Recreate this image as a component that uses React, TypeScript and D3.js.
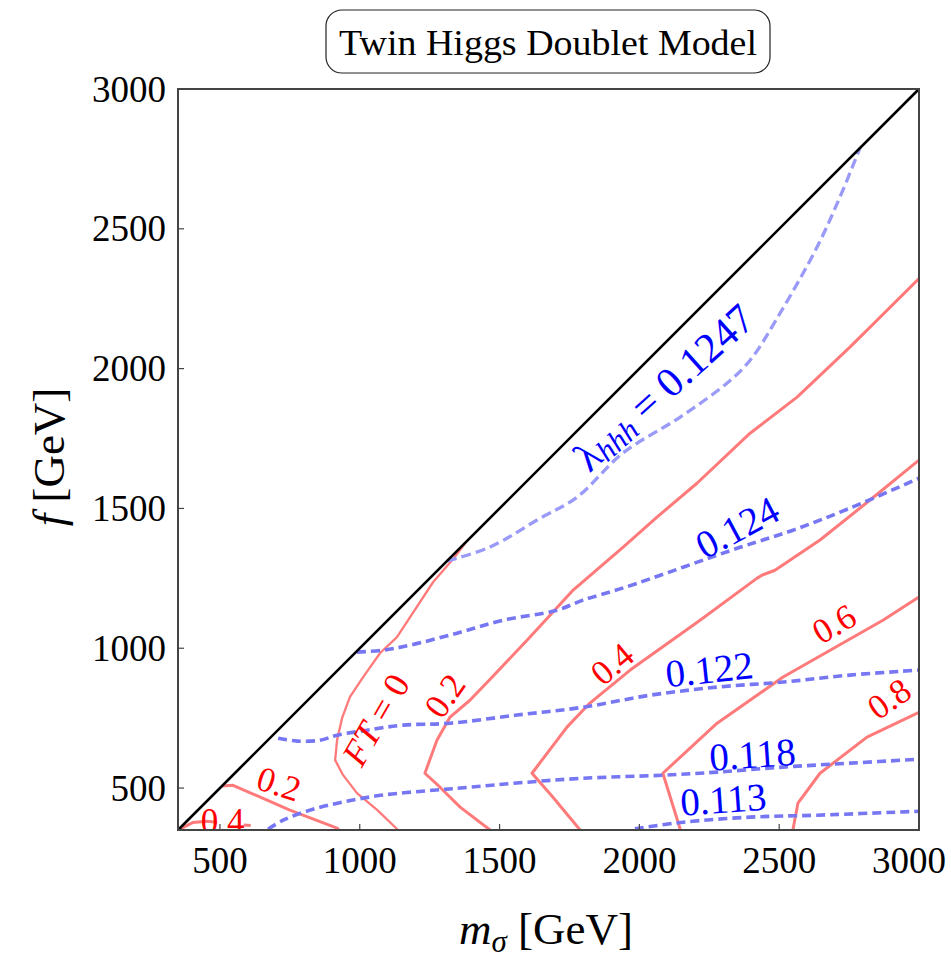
import React from "react";
import * as d3 from "d3";

// ---------- data (GeV) ----------
const DOMAIN: [number, number] = [350, 3000];
const X_TICKS = [500, 1000, 1500, 2000, 2500, 3000];
const Y_TICKS = [500, 1000, 1500, 2000, 2500, 3000];
const TITLE = "Twin Higgs Doublet Model";

// fine-tuning contours (m_sigma, f)
const ftZero: [number, number][] = [
  [1380, 1380], [1336, 1322], [1262, 1236], [1133, 1040], [1073, 983], [1012, 897],
  [965, 826], [937, 751], [919, 672], [912, 600], [940, 547], [990, 482], [1062, 422], [1137, 350],
];
const ft02Low: [number, number][] = [[507, 507], [547, 510], [750, 421], [919, 357], [925, 350]];
const ft04LowA: [number, number][] = [[350, 350], [404, 377], [454, 381], [490, 378]];
const ft04LowB: [number, number][] = [[585, 368], [610, 366]];
const ft02: [number, number][] = [
  [1466, 350], [1359, 432], [1287, 503], [1233, 553], [1276, 671], [1323, 754], [1394, 814],
  [1467, 890], [1609, 1040], [1760, 1205], [1941, 1361], [2063, 1469], [2206, 1590],
  [2396, 1769], [2564, 1898], [2753, 2077], [3000, 2322],
];
const ft04: [number, number][] = [
  [1788, 350], [1691, 467], [1616, 553], [1741, 718], [1823, 804], [1967, 922],
  [2217, 1100], [2420, 1250], [2440, 1262], [2485, 1279], [2646, 1387], [2825, 1530], [3000, 1673],
];
const ft06: [number, number][] = [
  [2147, 350], [2084, 553], [2278, 732], [2514, 897], [2871, 1100], [3000, 1183],
];
const ft08: [number, number][] = [
  [2549, 350], [2567, 446], [2646, 553], [2814, 682], [3000, 771],
];

// trilinear Higgs coupling contours
const lam1247: [number, number][] = [
  [1312, 1312], [1466, 1362], [1645, 1465], [1777, 1540], [1941, 1698], [2145, 1826],
  [2313, 1948], [2396, 2030], [2503, 2198], [2635, 2434], [2717, 2613], [2789, 2789],
];
const lam124: [number, number][] = [
  [990, 986], [1083, 993], [1180, 1011], [1348, 1054], [1512, 1100], [1705, 1136],
  [1798, 1172], [1949, 1218], [2360, 1361], [2549, 1422], [2753, 1501], [3000, 1608],
];
const lam122: [number, number][] = [
  [708, 678], [776, 668], [858, 671], [919, 689], [1026, 707], [1155, 725], [1323, 732],
  [1562, 761], [1798, 789], [2038, 832], [2278, 861], [2514, 879], [2753, 904], [3000, 922],
];
const lam118: [number, number][] = [
  [672, 353], [726, 385], [822, 421], [940, 450], [1083, 475], [1262, 492], [1394, 503],
  [1562, 518], [1798, 535], [2084, 546], [2278, 557], [2514, 575], [2753, 589], [3000, 603],
];
const lam113: [number, number][] = [
  [1984, 354], [2156, 378], [2396, 396], [2635, 403], [3000, 417],
];

const redLines = [ft02Low, ft04LowA, ft04LowB, ft02, ft04, ft06, ft08];
const blueLines = [lam124, lam122, lam118, lam113];

const redLabels = [
  { text: "0.4", x: 510, y: 380, angle: 0 },
  { text: "0.2", x: 711, y: 514, angle: 18 },
  { text: "0.2", x: 1305, y: 829, angle: -55 },
  { text: "0.4", x: 1903, y: 943, angle: -40 },
  { text: "0.6", x: 2697, y: 1086, angle: -30 },
  { text: "0.8", x: 2894, y: 818, angle: -35 },
];
const blueLabels = [
  { text: "0.124", x: 2350, y: 1433, angle: -28 },
  { text: "0.122", x: 2250, y: 925, angle: -6 },
  { text: "0.118", x: 2404, y: 621, angle: -4 },
  { text: "0.113", x: 2300, y: 460, angle: -4 },
];
const ftZeroLabel = { x: 1058, y: 744, angle: -60 };
const lamLabel = { x: 2088, y: 1932, angle: -42 };

// ---------- layout ----------
const W = 951;
const H = 959;
const L = 178, R = 919, T = 89, B = 830;
const FONT = "'Liberation Serif', 'DejaVu Serif', serif";
const RED = "#ff7a7a";
const BLUE = "#7777f4";

export default function App() {
  const x = d3.scaleLinear().domain(DOMAIN).range([L, R]);
  const y = d3.scaleLinear().domain(DOMAIN).range([B, T]);
  const lin = d3.line<[number, number]>().x((d) => x(d[0])).y((d) => y(d[1]));
  const smooth = d3
    .line<[number, number]>()
    .x((d) => x(d[0]))
    .y((d) => y(d[1]))
    .curve(d3.curveCatmullRom.alpha(0.5));

  return (
    <svg width={W} height={H} style={{ position: "absolute", left: 0, top: 0, background: "#fff" }}
      fontFamily={FONT}>
      <defs>
        <clipPath id="plot">
          <rect x={L} y={T} width={R - L} height={B - T} />
        </clipPath>
      </defs>
      <rect x={0} y={0} width={W} height={H} fill="#fff" />

      {/* title box */}
      <rect x={326} y={10} width={444} height={63} rx={16} ry={16} fill="#fff" stroke="#222" strokeWidth={1.2} />
      <text x={548} y={55} textAnchor="middle" fontSize={36} textLength={418} lengthAdjust="spacingAndGlyphs" fill="#000">
        {TITLE}
      </text>

      <g clipPath="url(#plot)">
        {redLines.map((d, i) => (
          <path key={"r" + i} d={lin(d) || ""} fill="none" stroke={RED} strokeWidth={3} strokeLinejoin="round" />
        ))}
        <path d={lin(ftZero) || ""} fill="none" stroke={RED} strokeWidth={2.3} strokeLinejoin="round" />
        <path d={smooth(lam1247) || ""} fill="none" stroke="#9a9af8" strokeWidth={3.3} strokeDasharray="10 5" />
        {blueLines.map((d, i) => (
          <path key={"b" + i} d={smooth(d) || ""} fill="none" stroke={BLUE} strokeWidth={3.6} strokeDasharray="9 5" />
        ))}

        {redLabels.map((l, i) => (
          <text key={"rl" + i} transform={`translate(${x(l.x)},${y(l.y)}) rotate(${l.angle})`}
            textAnchor="middle" dominantBaseline="central" fontSize={35} fill="#ff0000">
            {l.text}
          </text>
        ))}
        <text transform={`translate(${x(ftZeroLabel.x)},${y(ftZeroLabel.y)}) rotate(${ftZeroLabel.angle})`}
          textAnchor="middle" dominantBaseline="central" fontSize={36} fill="#ff0000">
          <tspan fontStyle="italic">FT</tspan>
          <tspan> = 0</tspan>
        </text>
        {blueLabels.map((l, i) => (
          <text key={"bl" + i} transform={`translate(${x(l.x)},${y(l.y)}) rotate(${l.angle})`}
            textAnchor="middle" dominantBaseline="central" fontSize={39} fill="#0000ff">
            {l.text}
          </text>
        ))}
        <text transform={`translate(${x(lamLabel.x)},${y(lamLabel.y)}) rotate(${lamLabel.angle})`}
          textAnchor="middle" dominantBaseline="central" fontSize={42} fill="#0000ff">
          <tspan>λ</tspan>
          <tspan fontStyle="italic" fontSize={30} dy={7}>hhh</tspan>
          <tspan dy={-7}> = 0.1247</tspan>
        </text>
      </g>

      {/* diagonal m_sigma = f */}
      <line x1={x(DOMAIN[0])} y1={y(DOMAIN[0])} x2={x(DOMAIN[1])} y2={y(DOMAIN[1])} stroke="#000" strokeWidth={2.6} />

      {/* frame */}
      <rect x={L} y={T} width={R - L} height={B - T} fill="none" stroke="#444" strokeWidth={2} />

      {/* ticks */}
      {X_TICKS.map((t, i) => {
        const last = i === X_TICKS.length - 1;
        return (
          <g key={"xt" + t}>
            <line x1={x(t)} x2={x(t)} y1={B} y2={B - 6} stroke="#444" strokeWidth={1.2} />
            <text x={last ? W - 5 : x(t)} y={873} textAnchor={last ? "end" : "middle"} fontSize={37} fill="#000">{t}</text>
          </g>
        );
      })}
      {Y_TICKS.map((t) => (
        <g key={"yt" + t}>
          <line x1={L} x2={L + 6} y1={y(t)} y2={y(t)} stroke="#444" strokeWidth={1.2} />
          <text x={166} y={y(t)} textAnchor="end" dominantBaseline="central" fontSize={37} fill="#000">{t}</text>
        </g>
      ))}

      {/* axis titles */}
      <text x={546} y={944} textAnchor="middle" fontSize={45} fill="#000">
        <tspan fontStyle="italic">m</tspan>
        <tspan fontStyle="italic" fontSize={31} dy={8}>σ</tspan>
        <tspan dy={-8}> [GeV]</tspan>
      </text>
      <text transform="translate(64,457) rotate(-90)" textAnchor="middle" fontSize={45} fill="#000">
        <tspan fontStyle="italic">f</tspan>
        <tspan> [GeV]</tspan>
      </text>
    </svg>
  );
}
